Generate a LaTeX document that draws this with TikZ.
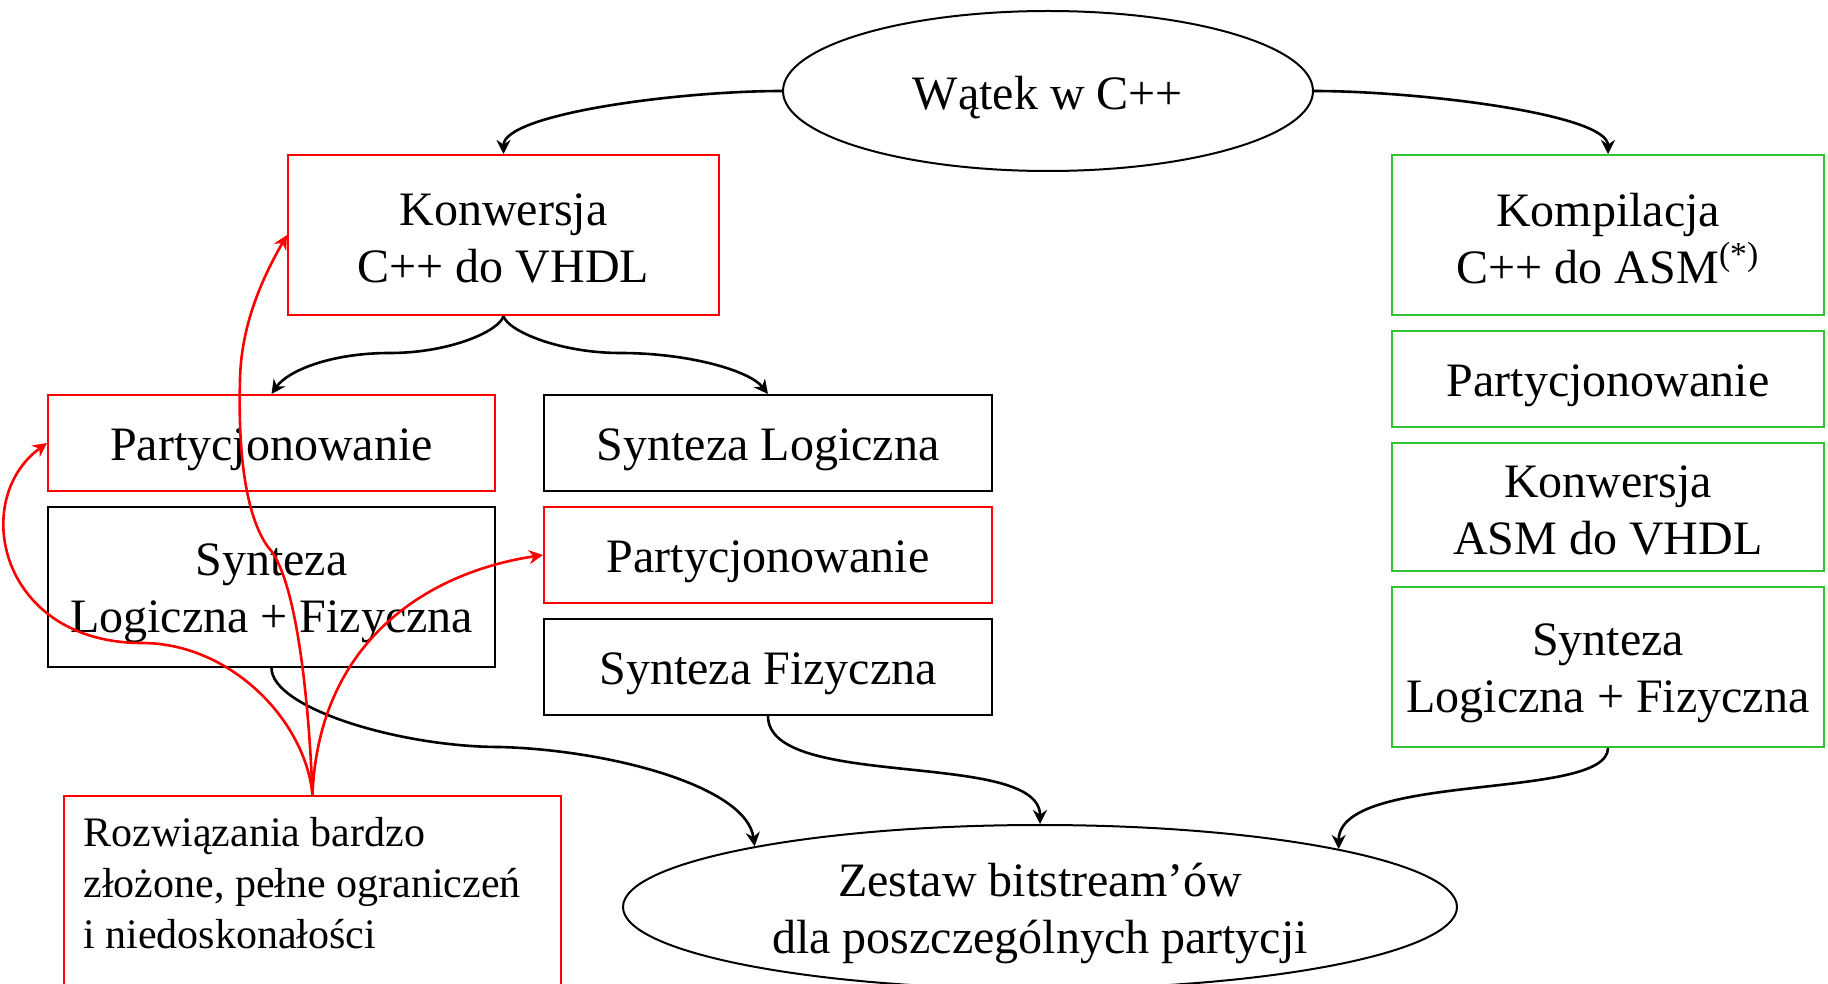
\documentclass[tikz,border=0pt]{standalone}
\usepackage{fontspec}
\setmainfont{Liberation Serif}
\usetikzlibrary{arrows.meta,shapes.geometric,calc}
\definecolor{boxgreen}{RGB}{50,195,50}
\definecolor{boxred}{RGB}{255,0,0}

\begin{document}
\begin{tikzpicture}[x=0.5pt,y=-0.5pt,
  every node/.style={font=\fontsize{24}{28.5}\selectfont, align=center, inner sep=0pt},
  box/.style={draw, rectangle, line width=1pt},
  redbox/.style={box, draw=boxred},
  greenbox/.style={box, draw=boxgreen},
  blackbox/.style={box, draw=black},
  oval/.style={draw, ellipse, line width=1pt},
  txt/.style={label={[yshift=-3.2pt]center:{#1}}},
  txthi/.style={label={[yshift=-1.6pt]center:{#1}}},
  flow/.style={line width=1.3pt, -{Stealth[length=7pt,width=7pt]}},
  note/.style={line width=1.3pt, color=boxred, -{Stealth[length=7pt,width=7pt]}},
]
\path[use as bounding box] (0,0) rectangle (1828,984);
\clip (0,0) rectangle (1828,984);
\fill[white] (0,0) rectangle (1828,984);

% source thread
\node[oval, minimum width=265pt, minimum height=80pt, txt={Wątek w C++}] (watek) at (1048,91) {};

% hardware path
\node[redbox, minimum width=215.5pt, minimum height=80pt, txthi={Konwersja\\C++ do VHDL}] (konw) at (503.5,235) {};
\node[redbox, minimum width=223.5pt, minimum height=48pt, txt={Partycjonowanie}] (partL) at (271.5,443) {};
\node[blackbox, minimum width=223.5pt, minimum height=80pt, txt={Synteza\\Logiczna + Fizyczna}] (syntL) at (271.5,587) {};
\node[blackbox, minimum width=224pt, minimum height=48pt, txt={Synteza Logiczna}] (syntlog) at (768,443) {};
\node[redbox, minimum width=224pt, minimum height=48pt, txt={Partycjonowanie}] (partM) at (768,555) {};
\node[blackbox, minimum width=224pt, minimum height=48pt, txt={Synteza Fizyczna}] (syntfiz) at (768,667) {};

% software path
\node[greenbox, minimum width=216pt, minimum height=80pt, txthi={Kompilacja\\C++ do ASM\textsuperscript{(*)}}] (komp) at (1608,235) {};
\node[greenbox, minimum width=216pt, minimum height=48pt, txt={Partycjonowanie}] (partR) at (1608,379) {};
\node[greenbox, minimum width=216pt, minimum height=64pt, txthi={Konwersja\\ASM do VHDL}] (konwasm) at (1608,507) {};
\node[greenbox, minimum width=216pt, minimum height=80pt, txt={Synteza\\Logiczna + Fizyczna}] (syntR) at (1608,667) {};

% result
\node[oval, minimum width=417pt, minimum height=82pt, txt={Zestaw bitstream’ów\\dla poszczególnych partycji}] (zestaw) at (1040,907) {};

% remark box
\node[redbox, anchor=north west, minimum width=248.5pt, minimum height=120pt] (rozw) at (63,795) {};
\node[anchor=north west, align=left, font=\fontsize{21}{25.5}\selectfont] (rozwtxt) at (83,817)
  {Rozwiązania bardzo\\złożone, pełne ograniczeń\\i niedoskonałości};

% flow connectors
\draw[flow] (watek.west) .. controls +(-104,0) and ($(konw.north)+(0,-40)$) .. (konw.north);
\draw[flow] (watek.east) .. controls +(104,0) and ($(komp.north)+(0,-40)$) .. (komp.north);
\draw[flow] (konw.south) .. controls +(-4,15) and (450,353) .. (390,353)
  .. controls (330,353) and ($(partL.north)+(16,-23)$) .. (partL.north);
\draw[flow] (konw.south) .. controls +(4,15) and (560,353) .. (620,353)
  .. controls (690,353) and ($(syntlog.north)+(-18,-23)$) .. (syntlog.north);
\draw[flow] (syntL.south) .. controls +(0,40) and (400,747) .. (500,747)
  .. controls (610,750) and ($(zestaw.168.7)+(-8,-60)$) .. (zestaw.168.7);
\draw[flow] (syntfiz.south) .. controls +(0,75) and ($(zestaw.north)+(0,-75)$) .. (zestaw.north);
\draw[flow] (syntR.south) .. controls +(0,53) and ($(zestaw.11.3)+(0,-78)$) .. (zestaw.11.3);

% remark pointers
\draw[note] (rozw.north) .. controls +(-7,-75) and (230,643) .. (142,643)
  .. controls (0,643) and ($(partL.west)+(-78,57)$) .. (partL.west);
\draw[note] (rozw.north) .. controls +(-4,-105) and (295,575) .. (268,547)
  .. controls (245,515) and (238,450) .. (240,380)
  .. controls (241,320) and ($(konw.west)+(-20,35)$) .. (konw.west);
\draw[note] (rozw.north) .. controls +(6,-155) and ($(partM.west)+(-114,17)$) .. (partM.west);
\end{tikzpicture}
\end{document}
